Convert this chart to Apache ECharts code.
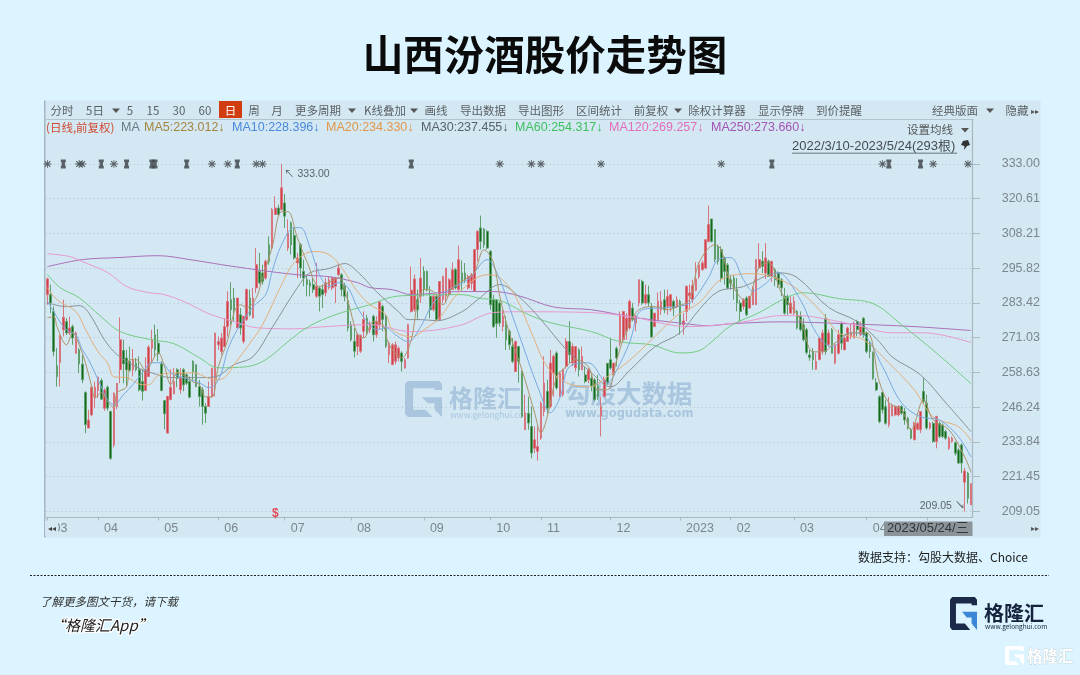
<!DOCTYPE html>
<html><head><meta charset="utf-8">
<style>html,body{margin:0;padding:0;background:#dbf4ff}#c{width:1080px;height:675px}</style>
<script src="https://cdn.jsdelivr.net/npm/echarts@6/dist/echarts.min.js"></script>
</head><body><div id="c"></div>
<script>
const monthKeys=["2022-03","2022-04","2022-05","2022-06","2022-07","2022-08","2022-09","2022-10","2022-11","2022-12","2023-01","2023-02","2023-03","2023-04","2023-05"];
const monthLabels=["03","04","05","06","07","08","09","10","11","12","2023","02","03","04","05"];
const monthDays=[
"10 11 14 15 16 17 18 21 22 23 24 25 28 29 30 31",
"1 6 7 8 11 12 13 14 15 18 19 20 21 22 25 26 27 28 29",
"5 6 9 10 11 12 13 16 17 18 19 20 23 24 25 26 27 30 31",
"1 2 6 7 8 9 10 13 14 15 16 17 20 21 22 23 24 27 28 29 30",
"1 4 5 6 7 8 11 12 13 14 15 18 19 20 21 22 25 26 27 28 29",
"1 2 3 4 5 8 9 10 11 12 15 16 17 18 19 22 23 24 25 26 29 30 31",
"1 2 5 6 7 8 9 13 14 15 16 19 20 21 22 23 26 27 28 29 30",
"10 11 12 13 14 17 18 19 20 21 24 25 26 27 28 31",
"1 2 3 4 7 8 9 10 11 14 15 16 17 18 21 22 23 24 25 28 29 30",
"1 2 5 6 7 8 9 12 13 14 15 16 19 20 21 22 23 26 27 28 29 30",
"3 4 5 6 9 10 11 12 13 16 17 18 19 20 30 31",
"1 2 3 6 7 8 9 10 13 14 15 16 17 20 21 22 23 24 27 28",
"1 2 3 6 7 8 9 10 13 14 15 16 17 20 21 22 23 24 27 28 29 30 31",
"3 4 6 7 10 11 12 13 14 17 18 19 20 21 24 25 26 27 28",
"4 5 8 9 10 11 12 15 16 17 18 19 22 23 24"];
const yTicks=[333.00,320.61,308.21,295.82,283.42,271.03,258.63,246.24,233.84,221.45,209.05];
// open, close, high, low per trading day
const candleRows=[
[286.4,292,292.5,282.8],[286.4,283.4,290,279.8],[280.4,266.1,282.2,264.4],[261,257.2,267.3,253.6],[262.2,271.7,272,253.6],[273.9,278.3,284.6,271.5],[276.8,272.7,278,272],[272.7,274.5,278.6,272],[275,270.9,275.7,268.5],[265.5,272.7,273.3,265.3],
[266.7,261.7,267.3,258.4],[261.6,256,265,254.8],[251.5,240,251.9,237],[238.8,241.7,245.3,238.8],[243.5,253.4,253.4,243],[249.5,253.4,255.4,245.9],[252.2,257,257,249.5],[255.8,249.1,256.5,249],[245.9,252.4,253,245],[253.4,245.9,254,245],
[244.7,228,245,227.5],[232.8,251.3,251.5,231.9],[246.5,254.8,254.8,245.5],[259.6,270.3,278.3,254.8],[266.5,261.7,270.3,254.8],[263.8,259.6,266.7,253.6],[262.6,259.4,267.9,259],[259.6,263.2,267,257.2],[262,259.6,263.8,259],[259.6,252.4,264.4,251.9],
[255.4,251.9,259.6,248.6],[252.2,259.6,264.1,252.2],[257.2,267.7,268.4,257],[267.3,270.3,273.9,262],[272.1,266.7,275.7,264.1],[269.1,265.3,274.1,262.6],[261.7,252.2,262.6,251.9],[248.6,243.9,248.6,238.4],[237,250.1,250.3,236.9],[248.9,253.4,259.8,248.9],
[251,255.4,260.2,251],[259.6,256.6,260.2,253.4],[252.5,256.6,260.2,251],[259.6,254.2,260.2,251.9],[257.8,254.8,258.4,254.2],[255.4,249.8,257.2,249.5],[262.6,259,263,256],[261.4,253.6,261.6,253.4],[253.6,250,256,246.5],[252.4,246.5,253.4,240],
[246.5,244.1,247.7,240.6],[246.5,250.1,255.4,246.3],[250.1,260.2,260.2,249.5],[256.6,272.7,272.7,250.1],[268.5,269.7,271.5,266.7],[266.1,270.9,272.7,265],[267.9,275,278,267.9],[275,284,287.6,271.5],[284.6,281,290.8,275.7],[285.2,281,288.8,276.9],
[274.5,285.2,285.2,274.5],[279.2,274.5,281.6,272.1],[269.7,278.7,278.7,268.9],[277.5,288.2,288.6,277],[285.2,279.2,288.2,278.7],[278.1,285.2,288.8,278],[288.8,297.1,303,287],[294.7,290.6,301.3,290],[294.1,291.1,297.1,290],[292.3,298.3,298.9,291.7],
[304.2,298.3,307.2,297.1],[303,316.7,317.3,302.5],[315,317.3,321.5,315],[317.3,315,318.5,314.4],[316.7,324.5,333,316.5],[319.1,314.4,322.3,310.2],[303,308.4,313.2,302],[312,304.2,312.5,300.7],[307.5,299.5,310.2,298.9],[297.7,299.5,301.3,292.3],
[304.2,295.9,304.8,292.3],[294.7,292.3,298.9,289.4],[291.7,290,293.5,285.8],[290.6,289.4,291.7,285.8],[290,288.2,292.3,287],[285.8,289.4,297.7,285.2],[288.8,285.8,289.4,280.4],[288.2,286.4,290,281.6],[287,290.6,292.3,285.8],[288.8,291.7,292.9,288.2],
[288.8,292.3,292.9,288],[289.4,292.3,292.8,283.4],[293.5,295.9,297.7,293],[293.5,288.2,294.1,285.8],[289.4,285.8,290.6,284],[284.2,274.5,287.6,273.3],[275.7,270.3,276.9,269.7],[269.7,266.2,274.5,264],[267.9,272.1,272.7,264.8],[266.2,271.9,272.1,265.6],
[273.3,277.5,280.4,270.9],[278,272.7,279.2,272],[273.9,275.7,276.9,272.7],[278.7,272.1,279.2,269.7],[272.1,276.9,278.7,271],[275.7,283.8,284,273.9],[282.2,277.5,282.8,273.3],[278.7,268,279.2,267.4],[265,269.1,269.7,262],[261.4,268.5,269.1,261.4],
[262.6,268.5,269.7,261.6],[263.8,267.3,268,262.6],[265.6,262.6,266.2,259],[260.2,263.2,263.8,260],[263.8,275.7,276,263.5],[280.4,288,296.4,280],[281,292,293.6,280.3],[284.6,281,288.2,277.5],[285.8,292.3,299.5,283.4],[294.7,288.2,296.5,285.8],
[294.7,288.2,295,287.5],[285.8,281,289.4,278],[281,285.8,286.4,280.4],[285.8,277.5,286.4,276.9],[277.5,291.1,291.1,277.2],[284.6,292.9,293.2,283.4],[285.8,295.9,295.9,283.4],[286.4,291.7,292.3,285.8],[288.2,295.3,297.9,288.2],[295.3,288.8,295.9,288.2],
[288.2,298.9,303.9,287.6],[294.1,291.1,298.6,287.6],[294.1,291.7,297.7,290.5],[288.8,292.9,293.5,288.2],[290.5,293.5,294.1,288.2],[287.6,302.5,302.7,287.6],[302.5,309,309.4,298.3],[310.2,305.4,314.6,302.5],[309.8,304.2,310.2,303],[309,303,309.4,302.5],
[301.9,282.8,302.2,281],[284.6,275,286.4,274.5],[284.6,276,284.6,271],[283.4,276.3,284,275],[275,278.7,281,273.3],[275.7,270.3,278.7,266.7],[273.3,268.5,273.9,266.7],[267.9,262.6,270.9,262],[259,269.7,270,259],[267.9,262.6,268,255],
[259,243,259.3,242.5],[238.2,244.2,250.7,238.2],[244,240.6,250,238.2],[239.4,229.9,246.5,228],[231.6,234.6,239.4,229.9],[230.5,232.2,239.4,227.2],[235.2,247.7,248.3,234.6],[244.7,254.9,264.4,243],[251.9,245.9,256,244],[246.5,262,266.7,245.9],
[258.4,264.4,265,250],[265.6,253.1,266.2,252.5],[250,258.4,259,250],[250.7,259.6,260,250],[260.8,269.7,270.9,260],[269.7,265,276.9,262],[262,267.9,269.1,260.8],[260.3,267.9,267.9,259],[266.7,259.6,267.3,257.2],[259.6,264.4,267.9,259.6],
[257.8,255.4,260.8,254.8],[256,259.6,260.2,254.8],[256.6,253.7,257.8,251.9],[256,248.9,256.6,248.3],[253.7,250.1,257.8,248.9],[243,246.5,250,235.8],[250.1,256,257.2,250.1],[261.9,254.9,262,254.3],[263.2,260.2,270.9,259.6],[257.8,262,262,257.8],
[267.3,263.8,267.9,260.8],[269.1,279,280.4,268],[270.3,280.4,280.6,269.7],[273.3,278,279.8,270.3],[274.5,284,284.6,273.9],[281.6,277.5,283.4,276.9],[276.3,278.7,279.2,273.3],[283.4,291.7,291.7,282.2],[291.1,283.4,291.7,282.8],[283.4,286.4,290,282.8],
[286.4,283.4,289.6,282.2],[282,271.3,283.4,271],[275,279.8,279.8,275],[277.5,284,287.2,276.9],[281,284,287.6,279.2],[284.6,281,288.2,279.8],[282.2,285.8,288.2,279.2],[282.2,286.4,286.4,280.4],[284,281.6,284.6,278.7],[282.2,284.6,285.8,281.6],
[284,275.7,284.6,272.1],[275.7,277,279.8,272.1],[280.4,289.4,289.6,276.9],[286,287,290,281],[284.6,289.6,291.7,283.4],[288,292,298,287.6],[292.9,297.1,298,292],[295.3,297.7,298.5,295],[295.9,306,306,295.5],[305.4,311.4,318.2,305],
[313.4,305.4,313.4,305],[309.6,298.9,309.6,298],[303.6,298.3,304.2,297.1],[302.5,292.3,303.6,291],[299.5,294.7,300,290],[297,288.8,297.7,288.2],[291.7,290.5,293.5,288.2],[292.3,288.8,293.5,284.6],[288.2,283.4,292.3,280.4],[283.4,280.4,284.6,276.9],
[282.2,284.6,285.2,281],[285.2,279.2,285.8,278.7],[281.6,285.8,285.8,281.6],[282.8,288.8,289.4,282.8],[282.8,298.9,298.9,282.8],[295.9,298.9,304.8,295.9],[298.3,296.5,301.9,294.1],[294.1,299.5,304.8,292],[298.3,292.9,298.9,292.9],[292.9,298.3,298.3,291],
[295.3,291.7,295.9,289.4],[294.1,290,294.7,288.8],[291.7,288.8,292.3,285.8],[285.8,279.8,288.8,279.2],[285.8,282.8,286.4,279.2],[279.8,283.4,285.8,279.8],[279.8,284,285.8,279.2],[280.4,274.5,281,274],[278.6,273.9,280.4,273.3],[275.6,270.3,278,269.7],
[273.9,265.8,274.5,265],[264.9,264,266.7,262.8],[266.1,263.2,267.3,259.6],[259.8,262.6,265.5,259.6],[263.2,270.9,271,263.2],[266.1,272.7,273.9,265],[278,266.1,279.5,265],[268.5,272.7,274,267.9],[273.9,265.5,274.5,265.5],[262,268.5,269,261.6],
[265.5,272.1,273.9,265],[276.2,269.1,276.8,266.7],[266.7,270.9,271.5,266.7],[269.7,274.5,275,269.7],[271.5,272.7,276,270.5],[270.9,276.2,276.8,270.9],[276.8,273.9,277.4,271.5],[272.1,275,276.8,271.5],[278,272.1,278.4,271],[272.7,266.1,273.3,265.5],
[269.1,266.1,269.7,263.8],[265.8,256.6,266.1,256],[255,252.4,256.6,252],[250,241.1,250.5,240.5],[251.5,245.3,251.8,244],[246.5,240.5,248.9,240],[240,247.1,249.8,239.1],[243.2,246.7,247.5,243],[243.5,246.5,247,243],[243.5,246.5,247,243],
[246.5,244.1,247,243.5],[244.7,241.7,246,240],[242.3,238.8,242.8,238.2],[238.2,235.2,238.8,234.8],[234.6,240.5,241,234.6],[238.4,240.5,241,238],[238.2,244.7,244.7,237],[251.9,248.3,256.6,247.5],[247.7,238.8,250.7,238.2],[238.8,240.5,241,238.2],
[240.5,234,241,233.6],[234,242.9,243.2,231.6],[240.5,235.8,241.1,235.2],[239.9,235.8,240.5,235.2],[237.6,235.2,238.2,234.6],[231.6,235.2,235.8,231],[234,235.2,235.8,233.6],[233.6,229.8,234,229],[231,226.3,231.6,226],[232.8,226.3,233.4,222.7],
[219.5,223.5,224.6,209.05],[222.7,213.8,223.2,211.9],[211.4,218.9,219.2,211.4]];
const ma5=[[0,278.2],[2,278.5],[3,275],[6,268.5],[8,272.8],[10,268.5],[12,262.1],[14,253.5],[15,249.6],[17,251.4],[19,248.2],[21,246],[22,251.4],[25,253.5],[26,263.2],[28,263.2],[31,259.6],[35,265.7],[37,260.7],[39,254.3],[41,258.5],[44,257.1],[46,255.3],[48,254.3],[50,249.9],[52,249.9],[54,260.7],[57,270.3],[59,280],[61,282.8],[63,281.8],[66,285.3],[68,292.5],[71,303.2],[74,316],[76,316],[79,306.7],[82,298.2],[86,289.3],[89,290.7],[92,292.5],[95,283.9],[98,272.1],[100,271],[103,276.8],[106,275.7],[108,268.5],[112,263.9],[115,270.3],[117,283.5],[119,288.2],[122,287.5],[125,282.8],[128,288.9],[133,292.5],[135,294.3],[138,302.4],[141,297.8],[143,285.7],[146,272.8],[150,259.6],[154,244.3],[156,237.1],[158,242.8],[161,257.1],[164,260.7],[167,263.2],[171,260.7],[174,252.5],[177,252.5],[180,263.2],[182,270.3],[186,280],[190,282.1],[193,282.1],[196,281],[199,282.1],[203,284.6],[206,297.8],[211,304.2],[213,302.4],[216,290.7],[221,283.9],[225,296.4],[228,297.8],[232,287.1],[238,277.5],[242,266],[245,266],[249,269.2],[254,272.8],[259,272.8],[263,255.3],[266,247.8],[270,245.3],[273,238.2],[277,248.9],[280,241.7],[285,238.2],[290,228.4],[292,223]];
const ma10=[[0,283.9],[2,280.3],[5,275],[7,273.2],[9,272.1],[11,266.8],[13,263.2],[15,258.5],[17,253.5],[19,248.9],[21,247.1],[24,250.7],[27,254.3],[30,258.5],[33,262.1],[36,262.1],[39,258.5],[43,256.8],[48,255],[51,253.2],[53,254.3],[55,258.5],[57,266.8],[60,273.9],[65,282.1],[69,286.4],[71,294.6],[74,304.2],[78,310.3],[80,310.3],[83,303.2],[86,293.5],[89,289.3],[92,290.7],[95,288.9],[98,281.8],[101,276.8],[104,273.9],[107,274.6],[110,272.1],[114,269.6],[118,275],[122,283.5],[127,288.2],[133,291.8],[139,298.9],[143,291.8],[146,282.1],[150,269.2],[155,253.5],[159,244.3],[162,249.6],[165,260.7],[171,262.1],[177,255],[180,259.6],[184,269.2],[188,281],[196,281.8],[203,283.5],[209,292.5],[212,298.9],[216,299.6],[220,291.8],[223,287.8],[227,290.3],[231,294.2],[238,284.6],[243,272.8],[248,267.8],[254,272.8],[258,272.1],[264,260.7],[270,247.8],[276,242.8],[282,241.7],[288,235.7],[292,228.4]];
const ma20=[[0,288.9],[3,284.6],[9,280.3],[12,274],[16,266],[19,262],[21,257.1],[25,256.8],[30,254.3],[32,254.3],[35,257.5],[40,258.5],[46,258.5],[53,256],[56,256.8],[59,261.4],[63,267.5],[68,275.7],[74,289.9],[78,297.8],[84,301.8],[89,300.7],[93,296],[98,287.5],[102,282.8],[107,279.3],[109,273.9],[115,271.4],[120,274.6],[124,278.2],[130,287.1],[139,293.5],[143,292.5],[148,285.7],[153,272.8],[158,260.7],[164,255],[171,253.5],[177,257.1],[183,262],[190,269.2],[199,278.9],[206,283.5],[213,291.8],[223,293.9],[231,292],[238,287.5],[246,278.5],[250,272.8],[258,270.3],[266,262],[274,252.5],[280,242.8],[288,239.3],[292,234.3]];
const ma30=[[0,283.5],[6,282.1],[10,282.5],[13,280],[18,270.3],[22,265],[28,260.7],[33,258.5],[39,256.8],[48,256.8],[53,257.1],[59,261.4],[65,264.3],[71,274.6],[79,288.9],[83,294.2],[89,295.7],[94,297.5],[98,294.6],[104,287.5],[111,280.3],[114,277.5],[118,277.5],[123,277.1],[131,280.3],[136,284.6],[143,290],[149,285.7],[156,277.5],[164,266.8],[172,258.5],[178,253.5],[184,259.3],[192,267.8],[200,272.8],[206,281],[212,287.5],[220,289.3],[231,294.2],[237,292.5],[247,281.8],[256,276.8],[263,269.6],[267,264.2],[276,257.8],[284,247.8],[292,237.5]];
const ma60=[[0,293.6],[4,288.9],[10,285.3],[17,278.5],[23,273.2],[33,270.3],[40,268.9],[48,263.9],[54,260.3],[63,260.7],[69,263.2],[76,269.6],[81,273.9],[87,277.5],[95,280.7],[102,282.8],[107,285],[112,286],[131,286.4],[137,285],[142,284.6],[152,279.3],[159,276.4],[172,273.2],[181,269.6],[191,268.5],[200,265.6],[206,266.4],[210,269.6],[216,275.3],[225,280],[233,285],[239,287.1],[250,285],[261,283.2],[270,275.7],[281,265.6],[292,254.6]];
const ma120=[[0,301],[7,300],[11,298.2],[19,294.3],[25,289.3],[32,287.1],[37,286.4],[44,283.5],[51,279.6],[60,276.4],[66,274.6],[78,274.2],[88,275],[102,275.7],[115,273.2],[130,275.3],[141,280],[149,280.3],[172,280],[186,278.2],[195,276],[202,275],[209,275.3],[220,276.7],[232,278.9],[238,278.9],[242,278.5],[255,275.7],[267,272.8],[277,272.8],[292,269.3]];
const ma250=[[0,296.4],[11,298.9],[22,299.6],[35,300.3],[45,298.9],[55,297.1],[66,295.3],[79,293.5],[89,292.8],[98,290.7],[102,288.9],[109,288.2],[115,286.4],[130,287.5],[141,287.5],[149,286],[160,282],[172,281],[186,278.2],[202,276],[209,275.3],[216,276],[232,276.7],[253,276],[274,275],[292,273.6]];
const starEvents=[0,10,11,21,52,57,66,68,143,153,156,175,213,264,280,291];
const barEvents=[5,17,25,33,34,44,60,115,229,266,276];
const signalPoint=[[72,208.1]];
const peakPoint=[[74,333.00]];
const troughPoint=[[290,209.05]];
const toolbarNames=["分时","5日","5","15","30","60","日","周","月","更多周期","K线叠加","画线","导出数据","导出图形","区间统计","前复权","除权计算器","显示停牌","到价提醒","经典版面","隐藏"];
const legendNames=["(日线,前复权)","MA","MA5:223.012↓","MA10:228.396↓","MA20:234.330↓","MA30:237.455↓","MA60:254.317↓","MA120:269.257↓","MA250:273.660↓"];

const toolbarCenters=[62,95,130,153,179,205,230.5,254,277,318,385,436,483,541,599,651,717,781,839,955,1017];
const dropdownX=[116,352,414,678,990];
const legendX=[46,121,144,232,326,421,515,609,711];
const legendColors=["#d0492f","#6a7a85","#a4853f","#4a88dc","#e2964a","#58626a","#3fbf5d","#e36cba","#a453b5"];
const maColors=["#ab9468","#79a9e3","#e4b07c","#8a9296","#74cc84","#e899d0","#ab70ba"];
const FONT='"Noto Sans CJK SC","Noto Sans",sans-serif';
const LAT='"Liberation Sans","Noto Sans CJK SC",sans-serif';

const categories=[];const monthStart={};
monthKeys.forEach((m,k)=>{monthStart[categories.length]=monthLabels[k];monthDays[k].split(" ").forEach(d=>categories.push(m+"-"+d.padStart(2,"0")));});
const isMonth=i=>monthStart[i]!==undefined;

function T(text,x,y,size,color,o){o=o||{};return {type:'text',z:o.z===undefined?50:o.z,silent:true,x:x,y:y,style:Object.assign({text:text,fill:color,font:(o.weight||'normal')+' '+size+'px '+(o.family||FONT),textAlign:o.align||'left',textVerticalAlign:'middle'},o.style||{})};}
function R(x,y,w,h,fill,z){return {type:'rect',z:z,silent:true,shape:{x:x,y:y,width:w,height:h},style:{fill:fill}};}
// G mark drawn as two polygons inside a width×height box
const G_OUTER=[[.08,0],[.92,0],[1,.08],[1,.25],[.8,.25],[.8,.2],[.22,.2],[.22,.8],[.55,.8],[.75,1],[.08,1],[0,.92],[0,.08]];
const G_INNER=[[.45,.45],[1,.45],[1,1],[.8,.8],[.8,.62],[.62,.62]];
function Logo(x,y,w,h,fill,z,fill2){const p=a=>a.map(q=>[x+q[0]*w,y+q[1]*h]);return [{type:'polygon',z:z,silent:true,shape:{points:p(G_OUTER)},style:{fill:fill}},{type:'polygon',z:z,silent:true,shape:{points:p(G_INNER)},style:{fill:fill2||fill}}];}
function Tri(x,y,c){return {type:'polygon',z:50,silent:true,shape:{points:[[x-4,y-2],[x+4,y-2],[x,y+2.5]]},style:{fill:c||'#555'}};}

const g=[];
g.push(R(44,100.5,996.5,437,'#d3e8f3',-2));
g.push(R(44,100.5,1.5,437,'#a7b6bf',-1));
g.push(R(44,119,929.5,1,'#b3c2cb',-1));
g.push(R(219,101,23,17,'#d13c10',1));
toolbarNames.forEach((s,i)=>g.push(T(s,toolbarCenters[i],110.5,11.5,i===6?'#ffffff':'#5a5f63',{align:'center'})));
dropdownX.forEach(x=>g.push(Tri(x,110.5)));
g.push(T('▸▸',1031,110.5,8,'#555'));
legendNames.forEach((s,i)=>g.push(T(s,legendX[i],127.5,i===0?11.5:12.5,legendColors[i],{family:i===0?FONT:LAT})));
g.push(T('设置均线',907,130,11.5,'#555'));
g.push(Tri(965,130));
g.push(T('2022/3/10-2023/5/24(293根)',792,146,13,'#454c52',{family:LAT}));
g.push(R(792,152.8,165,0.8,'#454c52',50));
g.push({type:'polygon',z:50,silent:true,shape:{points:[[963,141],[968,140],[970,145],[967,146],[964,150],[964.5,146],[961,145]]},style:{fill:'#333'}});
g.push(R(45,521,13,14,'#d3e8f3',40));
g.push(T('◂◂',48,528,8,'#444'));
g.push(R(884,521.5,88.5,14.5,'#8b9499',40));
g.push(T('2023/05/24/三',887,528.8,13,'#30363a',{family:LAT}));
g.push(T('▸▸',1031,528,8,'#555'));
// watermark
g.push(...Logo(405,381,37,36,'#a9c6de',0));
g.push(T('格隆汇',449,398,24,'#a9c6de',{z:0,weight:'bold'}));
g.push(T('www.gelonghui.com',450,415,8.5,'#a9c6de',{z:0}));
g.push(T('勾股大数据',565,393,25.5,'#a9c6de',{z:0,weight:'bold'}));
g.push(T('www.gogudata.com',565,414,11.5,'#a9c6de',{z:0,weight:'bold',family:'"DejaVu Sans"'}));
// page furniture
g.push(T('山西汾酒股价走势图',545,55,40.5,'#0b0b0b',{align:'center',weight:'bold'}));
g.push(T('数据支持：勾股大数据、Choice',858,557,12,'#222'));
g.push({type:'line',z:50,silent:true,shape:{x1:30,y1:575.5,x2:1049,y2:575.5},style:{stroke:'#222',lineWidth:1,lineDash:[2,1.5]}});
g.push(T('了解更多图文干货，请下载',40,601.5,11.5,'#333',{style:{font:'italic 11.5px "Noto Sans CJK SC"'}}));
g.push(T('“格隆汇App”',50,625.5,15,'#222',{style:{font:'italic 15px "Noto Sans CJK SC"',stroke:'#ffffff',lineWidth:2.5}}));
g.push(...Logo(950,597,27,33,'#1a2a48',50,'#3c86d6'));
g.push(T('格隆汇',984,613,20,'#15233d',{weight:'bold'}));
g.push(T('www.gelonghui.com',985,627,6.5,'#15233d'));
g.push(...Logo(1005,646,19,19,'#ffffff',50));
g.push(T('格隆汇',1027,656,15.5,'#ffffff',{weight:'bold',style:{stroke:'#b9c6cc',lineWidth:0.6}}));

const maSeries=[ma5,ma10,ma20,ma30,ma60,ma120,ma250];
const maNames=["MA5","MA10","MA20","MA30","MA60","MA120","MA250"];
const series=[{type:'candlestick',name:'K',barWidth:2.2,z:3,
  data:candleRows.map(r=>[r[0],r[1],r[3],r[2]]),
  itemStyle:{color:'#d33f48',color0:'#11691c',borderColor:'#d9757e',borderColor0:'#5f9f6c',borderWidth:1}}];
maSeries.forEach((d,k)=>series.push({type:'line',name:maNames[k],data:d,symbol:'none',smooth:0.35,z:4+(6-k)*0.01,silent:true,lineStyle:{width:1,color:maColors[k]}}));
series.push({type:'scatter',name:'e1',data:starEvents.map(i=>[i,333]),silent:true,z:6,symbol:'path://M4.5 0h1v10h-1zM0 4.5h10v1H0zM1 2l1-1 7 7-1 1zM1 8l7-7 1 1-7 7z',symbolSize:8,itemStyle:{color:'#3a3f44'}});
series.push({type:'scatter',name:'e2',data:barEvents.map(i=>[i,333]),silent:true,z:6,symbol:'path://M1 0h6v3H1zM2 3h4v4H2zM1 7h6v3H1z',symbolSize:[5,9],itemStyle:{color:'#3a3f44'}});
series.push({type:'scatter',name:'sig',data:signalPoint,silent:true,z:6,symbolSize:1,itemStyle:{color:'rgba(0,0,0,0)'},label:{show:true,position:'inside',formatter:'$',color:'#e8222c',fontSize:12,fontWeight:'bold',fontFamily:LAT}});
series.push({type:'scatter',name:'hi',data:peakPoint,silent:true,z:6,symbolSize:1,itemStyle:{color:'rgba(0,0,0,0)'},label:{show:true,position:'right',offset:[-3,10],formatter:'↖ 333.00',color:'#3c4348',fontSize:10.5,fontFamily:LAT}});
series.push({type:'scatter',name:'lo',data:troughPoint,silent:true,z:6,symbolSize:1,itemStyle:{color:'rgba(0,0,0,0)'},label:{show:true,position:'left',offset:[6,-5],formatter:'209.05 ↘',color:'#3c4348',fontSize:10.5,fontFamily:LAT}});

const option={animation:false,backgroundColor:'#dbf4ff',graphic:{elements:g},
 grid:{left:45.9,top:120,width:926.8,height:397.5,containLabel:false},
 xAxis:{type:'category',data:categories,boundaryGap:true,
  axisLine:{show:true,lineStyle:{color:'#a9b8c0'}},
  axisTick:{show:true,length:3,alignWithLabel:true,interval:i=>isMonth(i),lineStyle:{color:'#a9b8c0'}},
  axisLabel:{show:true,interval:i=>isMonth(i),formatter:(v,i)=>monthStart[i]||'',align:'left',margin:5,padding:[0,0,0,6],hideOverlap:false,color:'#7b868d',fontSize:12.5,fontFamily:LAT},
  splitLine:{show:false}},
 yAxis:{type:'value',position:'right',min:206.9,max:348.7,
  axisLine:{show:true,lineStyle:{color:'#a9b8c0',width:1.2}},
  axisTick:{show:true,length:7,customValues:yTicks,lineStyle:{color:'#a9b8c0'}},
  axisLabel:{show:true,customValues:yTicks,formatter:v=>v.toFixed(2),margin:29,color:'#7b868d',fontSize:12.5,fontFamily:LAT,align:'left'},
  splitLine:{show:true,lineStyle:{type:[1,3],color:'#b2c0c8',width:1}}},
 series:series};
const chart=echarts.init(document.getElementById('c'),null,{renderer:'canvas',width:1080,height:675});
chart.setOption(option);
</script></body></html>
